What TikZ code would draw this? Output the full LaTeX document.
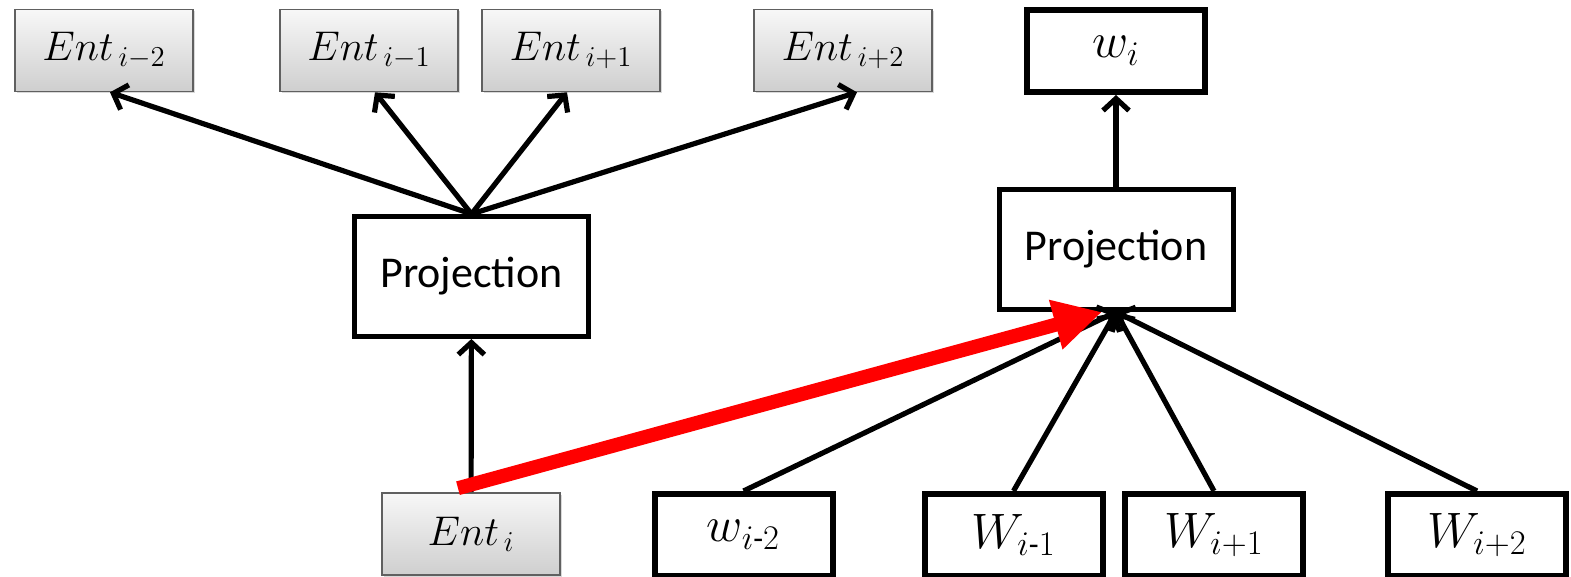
\documentclass[tikz,border=0pt]{standalone}
\usepackage{amsmath}
\usepackage{fontspec}
\setmainfont{Carlito}
\usetikzlibrary{arrows.meta,shadows}
\tikzset{
  >={Straight Barb[length=6pt,width=13pt]},
  ent/.style={draw=gray!75!black, line width=0.8pt, top color=gray!6, bottom color=gray!38,
    minimum width=89pt, minimum height=41pt, font=\fontsize{20}{24}\selectfont,
    drop shadow={shadow xshift=1pt, shadow yshift=-1pt, opacity=0.3}},
  wrd/.style={draw, line width=3pt, fill=white, minimum width=89pt, minimum height=41pt,
    font=\fontsize{23}{27}\selectfont},
  proj/.style={draw, line width=2.5pt, fill=white, minimum width=117pt, minimum height=60pt,
    font=\fontsize{22}{26}\selectfont},
  ctx/.style={->, line width=2.6pt},
  hl/.style={-{Triangle[length=24pt,width=24pt]}, draw=red, line width=7pt},
}

\begin{document}
\begin{tikzpicture}[x=0.5pt, y=-0.5pt]
  \useasboundingbox (0,0) rectangle (1571,577);
  % entity side
  \node[ent] (em2) at (104,50.5) {$Ent_{\,i-2}$};
  \node[ent] (em1) at (369,50.5) {$Ent_{\,i-1}$};
  \node[ent] (ep1) at (571,50.5) {$Ent_{\,i+1}$};
  \node[ent] (ep2) at (843,50.5) {$Ent_{\,i+2}$};
  \node[proj] (projL) at (471.5,276.5) {Projection};
  \node[ent] (ent) at (471,534) {$Ent_{\,i}$};
  % word side
  \node[wrd] (wi) at (1116,51) {$w_i$};
  \node[proj] (projR) at (1116,249.5) {Projection};
  \node[wrd] (wm2) at (743.5,535) {$w_{i\text{-}2}$};
  \node[wrd] (wm1) at (1013.5,535) {$W_{i\text{-}1}$};
  \node[wrd] (wp1) at (1214,535) {$W_{i+1}$};
  \node[wrd] (wp2) at (1477,535) {$W_{i+2}$};
  % arrows
  \draw[ctx] (ent) -- (projL);
  \foreach \e/\dx in {em2/3,em1/3,ep1/-2,ep2/7}
    \draw[ctx] (projL.north) -- ([xshift=\dx pt]\e.south);
  \draw[ctx] (projR) -- (wi);
  \foreach \w in {wm2,wm1,wp1,wp2}
    \draw[ctx] (\w.north) -- (projR.south);
  % entity to word link
  \draw[hl] ([xshift=-6.5pt,yshift=2pt]ent.north) -- ([xshift=-7pt]projR.south);
\end{tikzpicture}
\end{document}
